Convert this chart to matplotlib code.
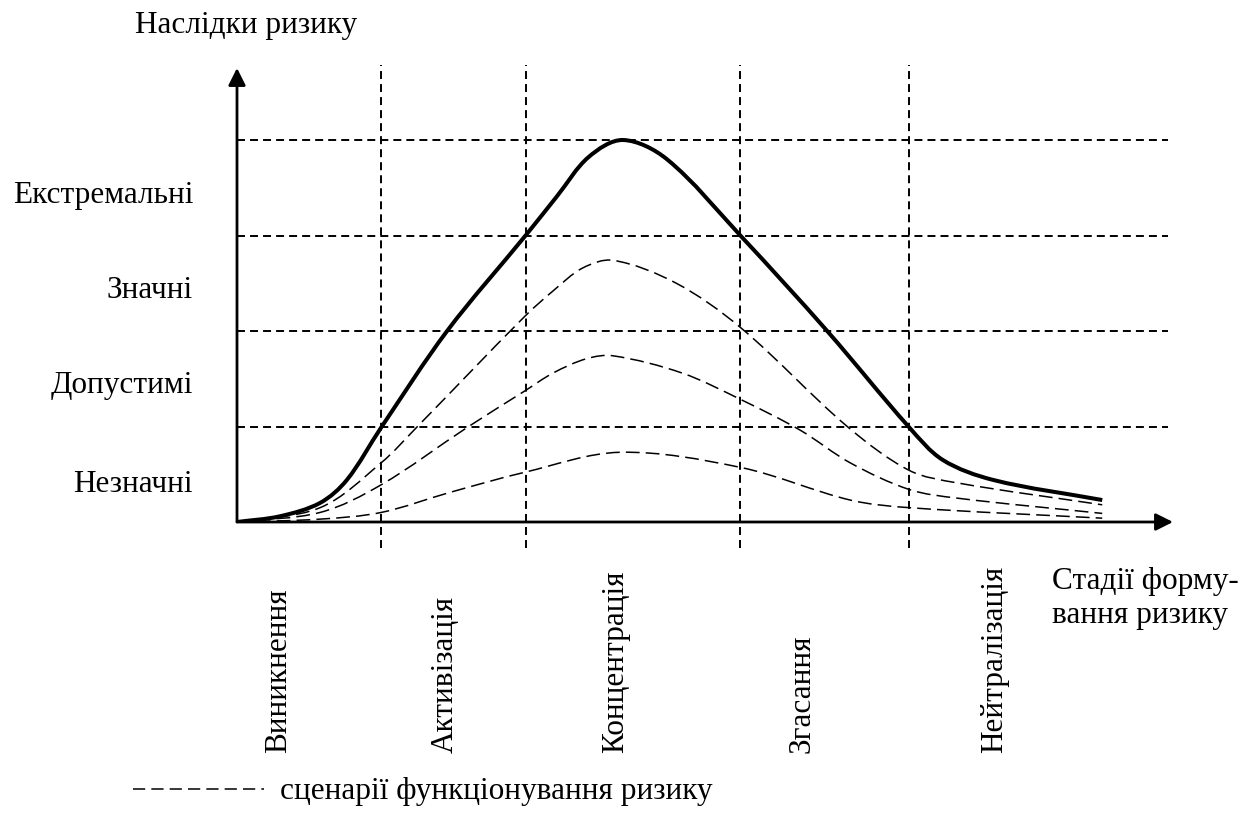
import numpy as np
import matplotlib
matplotlib.use("Agg")
import matplotlib.pyplot as plt
from matplotlib.path import Path
from matplotlib.patches import PathPatch
from matplotlib.lines import Line2D

plt.rcParams["font.family"] = ["Liberation Serif", "DejaVu Serif"]

# levels of risk consequences (horizontal grid) and stage borders (vertical grid)
levels = [1, 2, 3, 4]
level_labels = ["Незначні", "Допустимі", "Значні", "Екстремальні"]
stage_borders = [1.51, 3.03, 5.27, 7.04]
stages = ["Виникнення", "Активізація", "Концентрація", "Згасання", "Нейтралізація"]

# main risk curve (solid)
main_x = [0, 0.45, 0.87, 1.15, 1.51, 2.20, 3.03, 3.35, 3.68, 4.04, 4.50, 5.28, 6.18, 7.04, 7.39, 7.92, 9.06]
main_y = [0, 0.06, 0.20, 0.44, 0.99, 2.00, 3.01, 3.41, 3.82, 4.00, 3.80, 2.99, 2.00, 0.99, 0.65, 0.44, 0.23]

# scenario curves (dashed)
scen_a_x = [0, 0.87, 1.51, 1.88, 3.01, 3.31, 3.62, 3.94, 4.60, 5.28, 6.39, 7.04, 7.54, 9.06]
scen_a_y = [0, 0.15, 0.62, 0.99, 2.15, 2.42, 2.66, 2.74, 2.50, 2.03, 1.00, 0.54, 0.41, 0.18]
scen_b_x = [0, 0.87, 1.51, 2.41, 3.01, 3.31, 3.66, 3.94, 4.66, 5.28, 5.90, 6.42, 7.04, 7.54, 9.06]
scen_b_y = [0, 0.10, 0.39, 0.99, 1.37, 1.56, 1.71, 1.74, 1.56, 1.28, 0.96, 0.62, 0.34, 0.25, 0.09]
scen_c_x = [0, 0.87, 1.51, 2.23, 3.01, 4.01, 5.28, 6.42, 7.04, 9.06]
scen_c_y = [0, 0.03, 0.10, 0.31, 0.52, 0.73, 0.57, 0.23, 0.15, 0.04]


def smooth_path(xs, ys):
    """Smooth curve through the points (chord-length Hermite -> cubic Bezier)."""
    pts = np.column_stack([xs, ys]).astype(float)
    n = len(pts)
    d = np.linalg.norm(np.diff(pts, axis=0), axis=1)
    tang = np.zeros_like(pts)
    tang[0] = (pts[1] - pts[0]) / d[0]
    tang[-1] = (pts[-1] - pts[-2]) / d[-1]
    for i in range(1, n - 1):
        tang[i] = (pts[i + 1] - pts[i - 1]) / (d[i - 1] + d[i])
    verts = [pts[0]]
    codes = [Path.MOVETO]
    for i in range(n - 1):
        verts += [pts[i] + tang[i] * d[i] / 3, pts[i + 1] - tang[i + 1] * d[i] / 3, pts[i + 1]]
        codes += [Path.CURVE4] * 3
    return Path(verts, codes)


W, H = 1248, 827
fig = plt.figure(figsize=(W / 100, H / 100), dpi=100)
x0, y0, x1, y1 = 237, 522, 1173, 68
ax = fig.add_axes([x0 / W, 1 - y0 / H, (x1 - x0) / W, (y0 - y1) / H])
unit = 95.5
xmax = (x1 - x0) / unit
ymax = (y0 - y1) / unit
ax.set_xlim(0, xmax)
ax.set_ylim(0, ymax)
ax.axis("off")

FS = 22.5
grid_style = dict(color="black", lw=1.4, linestyle=(0, (4.1, 2.6)))

ax.hlines(levels, 0, xmax - 0.05, **grid_style)
ax.vlines(stage_borders, -0.27, 4.79, clip_on=False, **grid_style)

# axes with arrows
arrow = dict(arrowstyle="-|>", color="black", lw=2.0, mutation_scale=26, shrinkA=0, shrinkB=0)
ax.annotate("", xy=(xmax, 0), xytext=(0, 0), arrowprops=arrow, annotation_clip=False)
ax.annotate("", xy=(0, ymax), xytext=(0, 0), arrowprops=arrow, annotation_clip=False)

dash_style = (0, (9.0, 4.0))
for xs, ys in [(scen_a_x, scen_a_y), (scen_b_x, scen_b_y), (scen_c_x, scen_c_y)]:
    ax.add_patch(PathPatch(smooth_path(xs, ys), fill=False, color="black", lw=1.1,
                           linestyle=dash_style, capstyle="butt"))
ax.add_patch(PathPatch(smooth_path(main_x, main_y), fill=False, color="black", lw=2.9,
                       capstyle="butt", joinstyle="round"))

# y category labels
label_y = [0.31, 1.35, 2.35, 3.34]
for yy, lab in zip(label_y, level_labels):
    ax.text(-0.46, yy, lab, ha="right", va="baseline", fontsize=FS, clip_on=False)

# stage labels (vertical)
stage_x = [0.44, 2.18, 3.96, 5.92, 7.93]
for xx, lab in zip(stage_x, stages):
    ax.text(xx, -2.42, lab, rotation=90, ha="center", va="bottom", fontsize=FS, clip_on=False)

fig.text(135 / W, 1 - 33 / H, "Наслідки ризику", ha="left", va="baseline", fontsize=FS)
fig.text(1052 / W, 1 - 567 / H, "Стадії форму-\nвання ризику", ha="left", va="top",
         fontsize=FS, linespacing=1.25)

handle = Line2D([], [], color="black", lw=1.1, linestyle=(0, (8.0, 4.0)))
fig.legend([handle], ["сценарії функціонування ризику"], loc="center left",
           bbox_to_anchor=(133 / W, 1 - 792 / H), frameon=False, fontsize=FS,
           handlelength=4.2, handletextpad=0.5, borderpad=0, borderaxespad=0)

fig.savefig("out.png", dpi=100, facecolor="white")
